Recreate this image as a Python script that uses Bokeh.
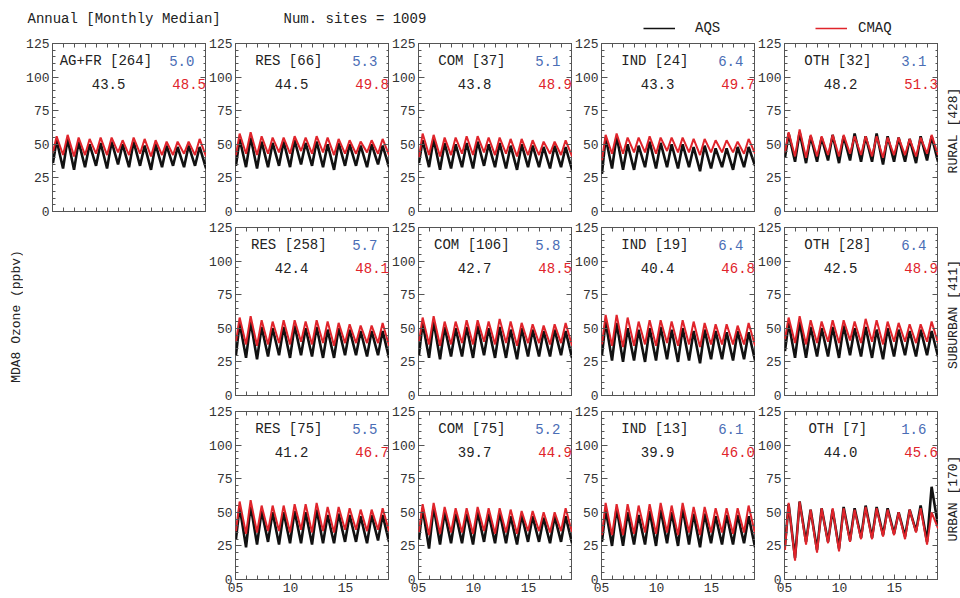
import math
from bokeh.plotting import figure
from bokeh.layouts import gridplot, column
from bokeh.models import Range1d, LinearAxis, FixedTicker, Label, Legend, LegendItem
from bokeh.embed import file_html
from bokeh.resources import INLINE

FONT = "Liberation Mono"
YEARS = list(range(2005, 2019))
START_MONTH = 1
PEAK_MONTH = 5
TROUGH_MONTH = 12

# ---------------- data (monthly-median MDA8 ozone, ppbv; seasonal peaks / troughs) -------------
# troughs: first value = Jan 2005, then December of each year
rural_agfr_aqs_peaks = [53, 54, 52, 50, 51, 52, 50, 52, 49, 50, 49, 48, 49, 48]
rural_agfr_aqs_troughs = [36, 32, 31, 33, 34, 32, 35, 33, 34, 31, 33, 34, 33, 34, 32]
rural_agfr_cmaq_peaks = [56, 57, 55, 54, 55, 55, 53, 55, 54, 53, 52, 52, 52, 54]
rural_agfr_cmaq_troughs = [44, 42, 41, 42, 43, 42, 44, 42, 43, 41, 42, 42, 43, 42, 41]

rural_res_aqs_peaks = [54, 55, 52, 51, 52, 53, 51, 52, 50, 51, 50, 49, 50, 49]
rural_res_aqs_troughs = [34, 33, 32, 33, 34, 33, 35, 34, 33, 31, 34, 34, 33, 35, 33]
rural_res_cmaq_peaks = [58, 59, 56, 55, 55, 56, 55, 56, 55, 54, 53, 52, 53, 54]
rural_res_cmaq_troughs = [42, 43, 42, 43, 44, 43, 45, 43, 44, 42, 43, 43, 44, 43, 42]

rural_com_aqs_peaks = [53, 54, 51, 50, 51, 52, 50, 51, 49, 50, 49, 48, 49, 48]
rural_com_aqs_troughs = [36, 33, 31, 32, 33, 32, 34, 33, 32, 31, 33, 33, 32, 33, 31]
rural_com_cmaq_peaks = [58, 57, 55, 55, 56, 56, 55, 55, 54, 54, 53, 52, 52, 53]
rural_com_cmaq_troughs = [40, 42, 41, 42, 43, 42, 44, 42, 43, 41, 42, 42, 43, 42, 41]

rural_ind_aqs_peaks = [55, 56, 50, 49, 52, 51, 50, 50, 48, 49, 47, 47, 48, 48]
rural_ind_aqs_troughs = [28, 32, 31, 31, 33, 32, 33, 32, 33, 30, 32, 33, 31, 33, 34]
rural_ind_cmaq_peaks = [57, 58, 55, 55, 56, 55, 55, 55, 54, 54, 53, 53, 52, 54]
rural_ind_cmaq_troughs = [38, 43, 43, 44, 44, 43, 45, 44, 44, 42, 44, 44, 44, 43, 43]

rural_oth_aqs_peaks = [58, 59, 56, 55, 57, 56, 58, 56, 58, 56, 55, 54, 56, 56]
rural_oth_aqs_troughs = [40, 37, 36, 37, 38, 36, 38, 37, 37, 35, 37, 37, 36, 38, 37]
rural_oth_cmaq_peaks = [59, 61, 57, 56, 57, 57, 56, 56, 56, 55, 55, 54, 55, 57]
rural_oth_cmaq_troughs = [44, 41, 40, 41, 42, 41, 43, 42, 41, 40, 42, 42, 41, 43, 42]

suburban_res_aqs_peaks = [54, 55, 51, 50, 51, 52, 50, 51, 49, 50, 49, 48, 48, 48]
suburban_res_aqs_troughs = [30, 28, 27, 29, 30, 28, 30, 29, 28, 28, 30, 30, 29, 30, 28]
suburban_res_cmaq_peaks = [58, 59, 56, 55, 56, 56, 55, 56, 55, 54, 53, 52, 52, 54]
suburban_res_cmaq_troughs = [40, 38, 37, 38, 39, 38, 40, 38, 39, 37, 39, 39, 39, 39, 37]

suburban_com_aqs_peaks = [54, 55, 51, 50, 51, 52, 50, 51, 49, 50, 49, 48, 49, 48]
suburban_com_aqs_troughs = [30, 28, 27, 29, 29, 28, 30, 28, 28, 27, 29, 29, 29, 30, 28]
suburban_com_cmaq_peaks = [58, 59, 55, 55, 56, 56, 55, 57, 55, 54, 53, 52, 53, 54]
suburban_com_cmaq_troughs = [40, 38, 37, 38, 39, 38, 40, 38, 39, 37, 39, 39, 38, 39, 37]

suburban_ind_aqs_peaks = [55, 54, 50, 49, 50, 51, 49, 50, 48, 49, 48, 47, 48, 47]
suburban_ind_aqs_troughs = [30, 26, 25, 26, 25, 26, 27, 25, 26, 24, 27, 27, 26, 27, 26]
suburban_ind_cmaq_peaks = [60, 60, 58, 55, 56, 56, 55, 56, 55, 54, 53, 53, 52, 54]
suburban_ind_cmaq_troughs = [38, 37, 36, 37, 38, 37, 39, 37, 38, 36, 38, 38, 38, 38, 37]

suburban_oth_aqs_peaks = [54, 55, 51, 50, 51, 52, 50, 51, 49, 50, 49, 48, 49, 48]
suburban_oth_aqs_troughs = [33, 28, 28, 29, 29, 28, 30, 29, 28, 27, 29, 30, 29, 30, 29]
suburban_oth_cmaq_peaks = [58, 59, 56, 55, 56, 56, 55, 57, 56, 55, 54, 53, 53, 55]
suburban_oth_cmaq_troughs = [42, 39, 38, 39, 40, 39, 41, 39, 40, 38, 40, 40, 39, 40, 39]

urban_res_aqs_peaks = [54, 55, 51, 50, 50, 51, 50, 52, 48, 49, 48, 47, 48, 48]
urban_res_aqs_troughs = [30, 24, 26, 28, 26, 27, 27, 26, 27, 27, 28, 28, 27, 29, 28]
urban_res_cmaq_peaks = [58, 59, 55, 55, 55, 56, 56, 57, 54, 54, 53, 52, 52, 53]
urban_res_cmaq_troughs = [36, 34, 35, 36, 36, 35, 37, 35, 36, 35, 37, 37, 36, 37, 36]

urban_com_aqs_peaks = [53, 54, 50, 49, 49, 50, 49, 50, 47, 48, 47, 46, 47, 47]
urban_com_aqs_troughs = [30, 23, 26, 27, 27, 26, 28, 27, 27, 26, 28, 28, 27, 28, 27]
urban_com_cmaq_peaks = [56, 57, 54, 53, 53, 54, 53, 53, 52, 51, 51, 50, 50, 53]
urban_com_cmaq_troughs = [35, 33, 34, 35, 35, 34, 36, 34, 35, 34, 36, 36, 35, 36, 35]

urban_ind_aqs_peaks = [52, 53, 50, 48, 51, 52, 50, 53, 49, 49, 47, 48, 48, 47]
urban_ind_aqs_troughs = [28, 25, 25, 26, 26, 25, 27, 25, 26, 24, 27, 26, 26, 27, 24]
urban_ind_cmaq_peaks = [57, 56, 56, 55, 56, 57, 55, 57, 54, 54, 53, 53, 53, 55]
urban_ind_cmaq_troughs = [33, 33, 33, 34, 35, 34, 35, 33, 35, 33, 35, 35, 34, 35, 34]

urban_oth_aqs_peaks = [56, 58, 52, 53, 52, 54, 53, 55, 54, 53, 50, 52, 55, 69]
urban_oth_aqs_troughs = [25, 16, 28, 22, 28, 23, 29, 31, 31, 33, 34, 32, 36, 28, 40]
urban_oth_cmaq_peaks = [57, 58, 52, 53, 53, 53, 52, 54, 53, 52, 50, 52, 53, 50]
urban_oth_cmaq_troughs = [22, 14, 26, 20, 27, 21, 28, 30, 30, 32, 33, 30, 35, 26, 38]

# ---------------- panel texts -------------
PANEL_POS = [(0, 0), (0, 1), (0, 2), (0, 3), (0, 4),
             (1, 1), (1, 2), (1, 3), (1, 4),
             (2, 1), (2, 2), (2, 3), (2, 4)]
PANEL_LABELS = ["AG+FR [264]", "RES [66]", "COM [37]", "IND [24]", "OTH [32]",
                "RES [258]", "COM [106]", "IND [19]", "OTH [28]",
                "RES [75]", "COM [75]", "IND [13]", "OTH [7]"]
PANEL_DIFF = ["5.0", "5.3", "5.1", "6.4", "3.1", "5.7", "5.8", "6.4", "6.4", "5.5", "5.2", "6.1", "1.6"]
PANEL_AQS_MEAN = ["43.5", "44.5", "43.8", "43.3", "48.2", "42.4", "42.7", "40.4", "42.5",
                  "41.2", "39.7", "39.9", "44.0"]
PANEL_CMAQ_MEAN = ["48.5", "49.8", "48.9", "49.7", "51.3", "48.1", "48.5", "46.8", "48.9",
                   "46.7", "44.9", "46.0", "45.6"]
PANEL_SERIES = [
    (rural_agfr_aqs_peaks, rural_agfr_aqs_troughs, rural_agfr_cmaq_peaks, rural_agfr_cmaq_troughs),
    (rural_res_aqs_peaks, rural_res_aqs_troughs, rural_res_cmaq_peaks, rural_res_cmaq_troughs),
    (rural_com_aqs_peaks, rural_com_aqs_troughs, rural_com_cmaq_peaks, rural_com_cmaq_troughs),
    (rural_ind_aqs_peaks, rural_ind_aqs_troughs, rural_ind_cmaq_peaks, rural_ind_cmaq_troughs),
    (rural_oth_aqs_peaks, rural_oth_aqs_troughs, rural_oth_cmaq_peaks, rural_oth_cmaq_troughs),
    (suburban_res_aqs_peaks, suburban_res_aqs_troughs, suburban_res_cmaq_peaks, suburban_res_cmaq_troughs),
    (suburban_com_aqs_peaks, suburban_com_aqs_troughs, suburban_com_cmaq_peaks, suburban_com_cmaq_troughs),
    (suburban_ind_aqs_peaks, suburban_ind_aqs_troughs, suburban_ind_cmaq_peaks, suburban_ind_cmaq_troughs),
    (suburban_oth_aqs_peaks, suburban_oth_aqs_troughs, suburban_oth_cmaq_peaks, suburban_oth_cmaq_troughs),
    (urban_res_aqs_peaks, urban_res_aqs_troughs, urban_res_cmaq_peaks, urban_res_cmaq_troughs),
    (urban_com_aqs_peaks, urban_com_aqs_troughs, urban_com_cmaq_peaks, urban_com_cmaq_troughs),
    (urban_ind_aqs_peaks, urban_ind_aqs_troughs, urban_ind_cmaq_peaks, urban_ind_cmaq_troughs),
    (urban_oth_aqs_peaks, urban_oth_aqs_troughs, urban_oth_cmaq_peaks, urban_oth_cmaq_troughs),
]
ROW_LABELS = ["RURAL [428]", "SUBURBAN [411]", "URBAN [170]"]
Y_LABEL = "MDA8 Ozone (ppbv)"
HEADER_LEFT = "Annual [Monthly Median]"
HEADER_SITES = "Num. sites = 1009"
SERIES_NAMES = ["AQS", "CMAQ"]
Y_TICKS = [0, 25, 50, 75, 100, 125]
Y_MINOR = list(range(0, 126, 5))
X_TICKS = [5, 10, 15]
X_MINOR = list(range(5, 20))
X_TICK_LABELS = {5: "05", 10: "10", 15: "15"}

# ---------------- styling / layout -------------
YLABEL_W = 23
HEADER_H = 35
FRAME_W, FRAME_H = 154, 168
COL_BORDER_LEFT = [27, 28, 29, 28, 28]
ROW_BORDER_TOP = [8, 8, 8]
ROW_BORDER_BOTTOM = [8, 8, 17]
ROWLABEL_W = 25
TOTAL_W = YLABEL_W + sum(COL_BORDER_LEFT) + 5 * FRAME_W + ROWLABEL_W
AQS_COLOR = "#111111"
CMAQ_COLOR = "#e0242b"
BLUE = "#4a6db5"
TEXT = "#222222"
FRAME_COLOR = "#555555"
NAN = float("nan")


def series_xy(peaks, troughs):
    xs = [YEARS[0] - 2000 + (START_MONTH - 0.5) / 12]
    ys = [troughs[0]]
    for yr, pk, tr in zip(YEARS, peaks, troughs[1:]):
        xs += [yr - 2000 + (PEAK_MONTH - 0.5) / 12, yr - 2000 + (TROUGH_MONTH - 0.5) / 12]
        ys += [pk, tr]
    return xs, ys


def tick_axis(major, minor, maj_in, min_in, overrides=None):
    """Axis with labelled major ticks, ticks drawn inward."""
    ax = LinearAxis(ticker=FixedTicker(ticks=major, minor_ticks=minor))
    ax.axis_line_color = None
    ax.major_tick_line_color = FRAME_COLOR
    ax.minor_tick_line_color = FRAME_COLOR
    ax.major_tick_out = 0
    ax.minor_tick_out = 0
    ax.major_tick_in = maj_in
    ax.minor_tick_in = min_in
    ax.major_label_text_font = FONT
    ax.major_label_text_font_size = "13px"
    ax.major_label_text_color = "#333333"
    ax.major_label_standoff = 3
    if overrides:
        ax.major_label_overrides = overrides
    return ax


def bare_axis(positions, length):
    """Axis that only draws unlabelled inward tick marks at the given positions."""
    ax = LinearAxis(ticker=FixedTicker(ticks=[], minor_ticks=positions))
    ax.axis_line_color = None
    ax.minor_tick_line_color = FRAME_COLOR
    ax.minor_tick_out = 0
    ax.minor_tick_in = length
    ax.major_tick_out = 0
    ax.major_tick_in = 0
    ax.major_label_standoff = 0
    return ax


def plain_fig(fw, fh, xr, yr, left=0, top=0, bottom=0):
    p = figure(frame_width=fw, frame_height=fh, x_range=Range1d(*xr), y_range=Range1d(*yr),
               output_backend="svg", toolbar_location=None,
               x_axis_location=None, y_axis_location=None,
               min_border_left=left, min_border_right=0,
               min_border_top=top, min_border_bottom=bottom,
               background_fill_color="white", border_fill_color="white")
    p.outline_line_color = None
    p.xgrid.visible = False
    p.ygrid.visible = False
    return p


def lbl(p, x, y, text, color=TEXT, align="center", size="14px", angle=0.0):
    p.add_layout(Label(x=x, y=y, text=text, text_font=FONT, text_font_size=size,
                       text_color=color, text_align=align, text_baseline="middle", angle=angle))


# ---------- header strip ----------
header = plain_fig(TOTAL_W, HEADER_H, (0, TOTAL_W), (0, HEADER_H))
lbl(header, 27, HEADER_H - 18, HEADER_LEFT, align="left")
lbl(header, 283, HEADER_H - 18, HEADER_SITES, align="left")
for name, color, loc, standoff in [(SERIES_NAMES[0], AQS_COLOR, (643, HEADER_H - 36), 20),
                                    (SERIES_NAMES[1], CMAQ_COLOR, (815, HEADER_H - 36), 11)]:
    dummy = header.line([NAN, NAN], [NAN, NAN], line_color=color, line_width=1.3)
    leg = Legend(items=[LegendItem(label=name, renderers=[dummy])], location=loc,
                 glyph_width=32, glyph_height=12, label_height=12, label_standoff=standoff,
                 padding=0, margin=0, border_line_color=None, background_fill_alpha=0,
                 label_text_font=FONT, label_text_font_size="14px", label_text_color=TEXT,
                 label_text_baseline="middle")
    header.add_layout(leg, "center")

# ---------- panel grid ----------
NCOL = 7
grid = [[None] * NCOL for _ in range(3)]
Y_MINOR_ONLY = [v for v in Y_MINOR if v not in Y_TICKS]

for i, (r, c) in enumerate(PANEL_POS):
    p = plain_fig(FRAME_W, FRAME_H, (5, 19), (0, 125), left=COL_BORDER_LEFT[c],
                  top=ROW_BORDER_TOP[r], bottom=ROW_BORDER_BOTTOM[r])
    p.outline_line_color = FRAME_COLOR
    p.outline_line_width = 1

    p.add_layout(tick_axis(Y_TICKS, Y_MINOR, 6, 3), "left")
    p.add_layout(bare_axis(Y_TICKS, 6), "right")
    p.add_layout(bare_axis(Y_MINOR_ONLY, 3), "right")
    if r == 2:
        p.add_layout(tick_axis(X_TICKS, X_MINOR, 5, 4, X_TICK_LABELS), "below")
    else:
        p.add_layout(bare_axis(X_MINOR, 4), "below")
    p.add_layout(bare_axis(X_MINOR, 4), "above")

    ap, at, cp, ct = PANEL_SERIES[i]
    ax_, ay_ = series_xy(ap, at)
    cx_, cy_ = series_xy(cp, ct)
    p.line(ax_, ay_, line_color=AQS_COLOR, line_width=2.6)
    p.line(cx_, cy_, line_color=CMAQ_COLOR, line_width=2.0)

    lbl(p, 9.85, 112, PANEL_LABELS[i])
    lbl(p, 16.75, 112, PANEL_DIFF[i], color=BLUE)
    lbl(p, 10.1, 95, PANEL_AQS_MEAN[i])
    lbl(p, 18.95, 95, PANEL_CMAQ_MEAN[i], color=CMAQ_COLOR, align="right")
    grid[r][c + 1] = p

# row labels on the right
for r in range(3):
    rl = plain_fig(ROWLABEL_W, FRAME_H, (0, ROWLABEL_W), (0, FRAME_H),
                   top=ROW_BORDER_TOP[r], bottom=ROW_BORDER_BOTTOM[r])
    lbl(rl, 15, FRAME_H / 2 - 3, ROW_LABELS[r], size="13px", angle=math.pi / 2)
    grid[r][NCOL - 1] = rl

# shared y-axis title in its own narrow column
yl = plain_fig(YLABEL_W, FRAME_H, (0, YLABEL_W), (0, FRAME_H), top=ROW_BORDER_TOP[1],
               bottom=ROW_BORDER_BOTTOM[1])
lbl(yl, 16, FRAME_H / 2 - 5, Y_LABEL, size="13px", angle=math.pi / 2)
grid[1][0] = yl

panels = gridplot(grid, toolbar_location=None)
page = column(header, panels, spacing=0)
open("out.html", "w").write(file_html(page, INLINE))
